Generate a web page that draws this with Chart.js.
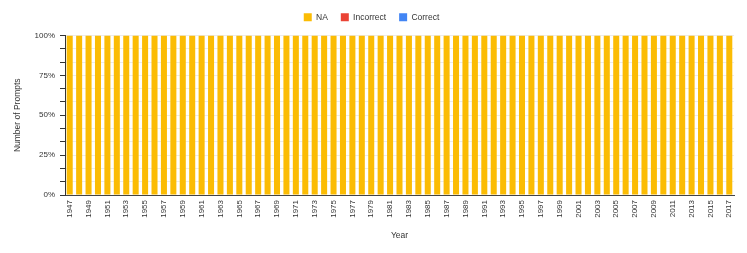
<!DOCTYPE html>
<html>
<head>
<meta charset="utf-8">
<script src="https://cdn.jsdelivr.net/npm/chart.js@4/dist/chart.umd.min.js"></script>
<style>
html,body{margin:0;padding:0;background:#fff;}
#wrap{width:747px;height:253px;position:relative;}
</style>
</head>
<body>
<div id="wrap"><canvas id="c" width="747" height="253"></canvas></div>
<script>
const years = [];
for (let y = 1947; y <= 2017; y++) years.push(String(y));
const naValues = [100,100,100,100,100,100,100,100,100,100,100,100,100,100,100,100,100,100,100,100,100,100,100,100,100,100,100,100,100,100,100,100,100,100,100,100,100,100,100,100,100,100,100,100,100,100,100,100,100,100,100,100,100,100,100,100,100,100,100,100,100,100,100,100,100,100,100,100,100,100,100];
const incorrectValues = years.map(() => 0);
const correctValues = years.map(() => 0);
const yTickValues = [0,100/12,200/12,25,400/12,500/12,50,700/12,800/12,75,1000/12,1100/12,100];
const yLabelValues = [0,25,50,75,100];

const FONT = "'Liberation Sans', Arial, sans-serif";
const legendGap = {
  id: 'legendGap',
  beforeLayout(chart) {
    const lg = chart.legend;
    if (lg && !lg._gapPatched) {
      const f = lg.fit;
      lg.fit = function() { f.call(this); this.height += 4; };
      lg._gapPatched = true;
    }
  }
};
new Chart(document.getElementById('c'), {
  type: 'bar',
  data: {
    labels: years,
    datasets: [
      {label: 'NA', data: naValues, backgroundColor: '#FBBC04', borderWidth: 0},
      {label: 'Incorrect', data: incorrectValues, backgroundColor: '#EA4335', borderWidth: 0},
      {label: 'Correct', data: correctValues, backgroundColor: '#4285F4', borderWidth: 0}
    ]
  },
  plugins: [legendGap],
  options: {
    responsive: false,
    animation: false,
    devicePixelRatio: 1,
    layout: {padding: {top: 0, right: 13, left: 9, bottom: 8}},
    datasets: {bar: {barPercentage: 0.8, categoryPercentage: 0.8}},
    plugins: {
      legend: {
        position: 'top',
        labels: {boxWidth: 8, boxHeight: 8, font: {family: FONT, size: 8.5}, color: '#333', padding: 13}
      },
      tooltip: {enabled: false}
    },
    scales: {
      x: {
        stacked: true,
        afterFit: function(axis) { axis.height = 50; },
        grid: {display: false, drawTicks: false},
        border: {display: true, color: '#444'},
        title: {display: true, text: 'Year', font: {family: FONT, size: 8.5}, color: '#333'},
        ticks: {
          autoSkip: false, maxRotation: 90, minRotation: 90, padding: 5,
          font: {family: FONT, size: 8}, color: '#333',
          callback: function(v, i) { return i % 2 === 0 ? years[i] : ''; }
        }
      },
      y: {
        stacked: true, min: 0, max: 100,
        afterFit: function(axis) { axis.width = 56; },
        afterBuildTicks: function(axis) { axis.ticks = yTickValues.map(v => ({value: v})); },
        grid: {color: 'rgba(0,0,0,0.08)', tickColor: '#333', tickLength: 5},
        border: {display: true, color: '#333'},
        title: {display: true, text: 'Number of Prompts', font: {family: FONT, size: 8.5}, color: '#333'},
        ticks: {
          font: {family: FONT, size: 8}, color: '#333', padding: 5,
          callback: function(v) {
            for (const l of yLabelValues) if (Math.abs(v - l) < 1e-6) return l + '%';
            return '';
          }
        }
      }
    }
  }
});
</script>
</body>
</html>
